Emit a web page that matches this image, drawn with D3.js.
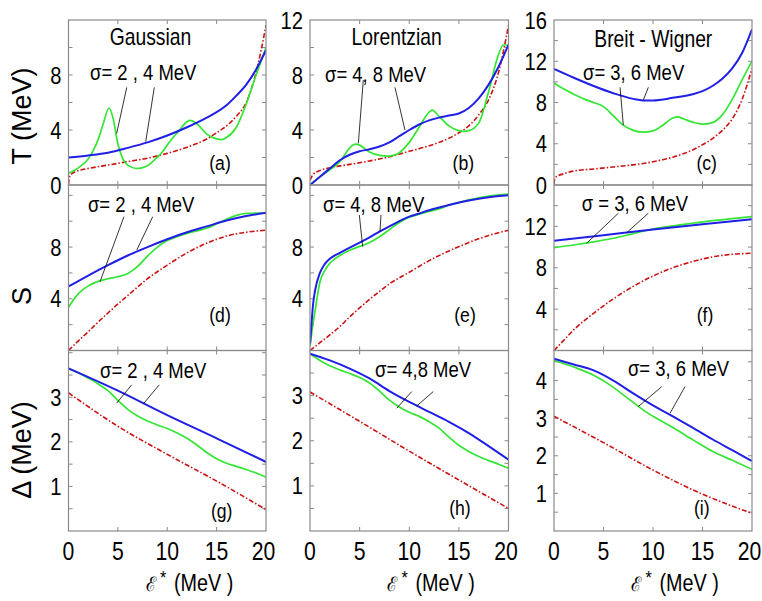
<!DOCTYPE html>
<html><head><meta charset="utf-8">
<script src="https://cdn.jsdelivr.net/npm/d3@7"></script>
<style>
body{margin:0;background:#fff}
svg text{font-family:"Liberation Sans",Arial,sans-serif;fill:#000}
</style></head><body>
<svg id="c" width="762" height="601"></svg>
<script>
// ---------- data (E* in MeV, value) ----------
const xTickValues = [0,5,10,15,20];
const xTickLabels = ["0","5","10","15","20"];

// T (MeV)
const tGaussS4 = [[0,2.0],[2,2.15],[4,2.35],[6,2.7],[8,3.1],[10,3.6],[12,4.2],[14,4.9],[16,5.8],[17,6.5],[18,7.3],[19,8.4],[20,9.8]];
const tGaussS2 = [[0,0.85],[1,1.25],[2,1.9],[2.5,2.5],[3,3.3],[3.5,4.4],[4.1,5.6],[4.5,4.9],[5,3.0],[5.5,1.9],[6,1.45],[6.9,1.2],[8,1.4],[8.6,1.75],[9.5,2.4],[10.3,3.2],[11.2,3.95],[12,4.6],[12.3,4.7],[13,4.45],[14,3.7],[15,3.35],[15.5,3.3],[16,3.45],[17,4.2],[18,5.9],[19,8.0],[20,10.0]];
const tGaussRef = [[0,0.05],[0.1,0.6],[0.3,0.8],[1,1.05],[2,1.2],[4,1.45],[6,1.7],[8,1.95],[10,2.3],[12,2.75],[14,3.35],[15,3.8],[16,4.3],[17,5.0],[18,6.0],[19,8.2],[20,11.6]];

const tLorS8 = [[0,0],[1,0.6],[2,1.2],[3,1.8],[4,2.2],[5,2.45],[6,2.6],[7,2.8],[8,3.1],[9,3.55],[10,4.0],[11,4.4],[12,4.7],[13,4.9],[14,5.05],[15,5.2],[16,5.6],[17,6.3],[18,7.3],[19,8.6],[20,10.2]];
const tLorS4 = [[0,0],[1,0.6],[2,1.1],[3,1.7],[3.5,2.2],[4,2.7],[4.6,2.97],[5,2.9],[6,2.4],[7,2.15],[8,2.1],[9,2.35],[10,3.1],[11,4.2],[12,5.3],[12.3,5.45],[13,5.0],[14,4.3],[15,3.95],[15.5,3.9],[16,3.95],[17,4.5],[18,6.8],[19,9.5],[19.5,10.2],[20,10.1]];
const tLorRef = [[0,0.35],[0.3,0.75],[1,1.05],[2,1.25],[4,1.5],[6,1.75],[8,2.05],[10,2.45],[12,2.85],[14,3.4],[15,3.8],[16,4.3],[17,5.1],[18,6.2],[19,8.2],[20,11.6]];

const tBwS6 = [[0,11.25],[2,10.4],[4,9.6],[6,8.9],[8,8.35],[9,8.2],[10,8.2],[12,8.45],[14,8.8],[15,9.1],[16,9.6],[17,10.3],[18,11.3],[19,12.8],[20,15.1]];
const tBwS3 = [[0,9.9],[1,9.3],[2,8.8],[3,8.35],[4,8.0],[5,7.6],[6,6.7],[7,5.8],[8,5.3],[9,5.12],[10,5.25],[11,5.8],[12,6.5],[12.5,6.6],[13,6.45],[14,6.1],[15,5.9],[16,6.05],[17,6.8],[18,8.3],[19,10.2],[20,12.0]];
const tBwRef = [[0,0.1],[0.1,0.7],[1,1.1],[2,1.35],[4,1.55],[6,1.75],[8,1.95],[10,2.25],[12,2.7],[14,3.4],[15,3.9],[16,4.5],[17,5.3],[18,6.4],[19,8.3],[20,11.3]];

// S
const sGaussS4 = [[0,4.95],[2,5.8],[4,6.6],[6,7.35],[8,8.0],[10,8.6],[12,9.15],[14,9.6],[16,10.05],[18,10.4],[20,10.65]];
const sGaussS2 = [[0,3.35],[1,4.4],[2,5.0],[3,5.35],[4,5.55],[5,5.7],[6,5.95],[7,6.5],[8,7.3],[9,8.0],[10,8.5],[11,8.8],[12,9.05],[13,9.25],[14,9.45],[15,9.8],[16,10.15],[17,10.45],[18,10.6],[20,10.65]];
const sGaussRef = [[0,0],[1,0.75],[2,1.45],[3,2.2],[4,2.9],[5,3.6],[6,4.25],[8,5.55],[10,6.6],[12,7.55],[14,8.3],[16,8.85],[18,9.15],[20,9.3]];

const sLorS8 = [[0,0.5],[0.1,1.5],[0.3,3.5],[0.5,4.6],[1,6.0],[1.5,6.7],[2,7.1],[3,7.55],[4,7.95],[5,8.35],[6,8.75],[7,9.2],[8,9.6],[9,10.0],[10,10.35],[11,10.6],[12,10.85],[14,11.25],[16,11.6],[18,11.85],[20,12.0]];
const sLorS4 = [[0,0.3],[0.2,1.5],[0.5,3.0],[1,5.3],[1.5,6.2],[2,6.75],[3,7.35],[4,7.75],[5,8.05],[6,8.35],[7,8.8],[8,9.35],[9,9.9],[10,10.3],[11,10.55],[12,10.75],[13,10.95],[14,11.25],[16,11.65],[18,11.95],[20,12.1]];
const sLorRef = [[0,0],[1,0.6],[2,1.2],[3,1.85],[4,2.6],[5,3.3],[6,3.95],[8,5.15],[10,6.05],[12,6.95],[14,7.7],[16,8.35],[18,8.9],[20,9.3]];

const sBwS6 = [[0,10.6],[5,11.15],[10,11.7],[15,12.2],[20,12.7]];
const sBwS3 = [[0,9.95],[2,10.2],[4,10.5],[6,10.85],[8,11.3],[10,11.75],[12,12.05],[14,12.3],[16,12.55],[18,12.75],[20,12.95]];
const sBwRef = [[0,0],[1,1.0],[2,2.0],[3,2.85],[4,3.6],[6,5.0],[8,6.2],[10,7.2],[12,8.0],[14,8.6],[16,9.05],[18,9.3],[20,9.4]];

// Delta (MeV)
const dGaussS4 = [[0,3.65],[5,3.15],[10,2.6],[15,2.08],[20,1.55]];
const dGaussS2 = [[0,3.64],[1,3.55],[2,3.43],[3,3.3],[4,3.15],[5,2.93],[6,2.73],[7,2.58],[8,2.47],[9,2.38],[10,2.3],[11,2.2],[12,2.08],[13,1.93],[14,1.76],[15,1.62],[16,1.52],[17,1.45],[18,1.38],[19,1.3],[20,1.21]];
const dGaussRef = [[0,3.1],[5,2.35],[10,1.72],[15,1.12],[20,0.48]];

const dLorS8 = [[0,3.93],[2,3.78],[4,3.6],[6,3.38],[8,3.1],[10,2.86],[12,2.64],[14,2.42],[16,2.17],[18,1.88],[20,1.58]];
const dLorS4 = [[0,3.93],[1,3.78],[2,3.66],[3,3.57],[4,3.49],[5,3.4],[6,3.28],[7,3.1],[8,2.9],[9,2.75],[10,2.63],[11,2.54],[12,2.42],[13,2.28],[14,2.08],[15,1.9],[16,1.76],[17,1.65],[18,1.56],[19,1.48],[20,1.39]];
const dLorRef = [[0,3.08],[5,2.43],[10,1.77],[15,1.13],[20,0.5]];

const dBwS6 = [[0,4.58],[2,4.43],[4,4.27],[6,4.0],[8,3.66],[10,3.34],[12,3.05],[14,2.75],[16,2.44],[18,2.15],[20,1.86]];
const dBwS3 = [[0,4.54],[2,4.36],[4,4.14],[6,3.82],[7,3.62],[8,3.42],[9,3.22],[10,3.05],[12,2.75],[14,2.43],[16,2.12],[18,1.88],[20,1.64]];
const dBwRef = [[0,3.05],[5,2.35],[10,1.62],[15,0.98],[20,0.47]];

// y tick labels per panel
const yLabelsA = [0,4,8], yLabelsB = [0,4,8,12], yLabelsC = [0,4,8,12,16];
const yLabelsD = [4,8], yLabelsE = [4,8], yLabelsF = [4,8,12];
const yLabelsG = [1,2,3], yLabelsH = [1,2,3], yLabelsI = [1,2,3,4];

const titles = ["Gaussian","Lorentzian","Breit - Wigner"];
const sigmaTexts = ["σ= 2 , 4 MeV","σ= 4,  8 MeV","σ= 3,  6 MeV","σ= 2 , 4 MeV","σ= 4, 8 MeV","σ = 3,  6 MeV","σ= 2 , 4 MeV","σ= 4,8 MeV","σ= 3,  6 MeV"];
const panelTags = ["(a)","(b)","(c)","(d)","(e)","(f)","(g)","(h)","(i)"];

// ---------- layout ----------
const cols = [[68.5,266],[310,508.5],[554,752]];
const rows = [[20,185],[185,350.5],[350.5,531]];
const colors = {wide:"#1f1fe6", narrow:"#33e633", ref:"#cc1111", frame:"#8a8a8a"};
const NARROW = 0.84;

function ntext(sel, x, y, size, anchor, str, sx){
  return sel.append("text")
    .attr("transform",`translate(${x},${y}) scale(${sx||NARROW},1)`)
    .attr("text-anchor",anchor).attr("font-size",size).text(str);
}

const panels = [
 {r:0,c:0,ymax:12,step:2,lab:yLabelsA,wide:tGaussS4,narrow:tGaussS2,ref:tGaussRef,
  sig:[2.18,7.64],lines:[[5.9,7.1,4.88,3.76],[8.69,7.1,7.82,3.15]],tag:[15.34,1.09],title:[8.3,10.2]},
 {r:0,c:1,ymax:12,step:2,lab:yLabelsB,wide:tLorS8,narrow:tLorS4,ref:tLorRef,
  sig:[1.51,7.51],lines:[[5.37,7.64,4.87,3.03],[8.56,7.1,9.57,4.0]],tag:[15.45,1.09],title:[8.73,10.2]},
 {r:0,c:2,ymax:16,step:2,lab:yLabelsC,wide:tBwS6,narrow:tBwS3,ref:tBwRef,
  sig:[2.93,10.18],lines:[[6.67,9.47,7.0,5.82],[9.53,9.47,9.02,8.24]],tag:[15.42,1.45],title:[10.03,13.38]},
 {r:1,c:0,ymax:12.8,step:2,lab:yLabelsD,wide:sGaussS4,narrow:sGaussS2,ref:sGaussRef,
  sig:[1.97,10.73],lines:[[5.62,10.35,3.19,5.32],[8.53,10.35,6.91,7.77]],tag:[15.34,2.2]},
 {r:1,c:1,ymax:12.8,step:2,lab:yLabelsE,wide:sLorS8,narrow:sLorS4,ref:sLorRef,
  sig:[1.31,10.73],lines:[[4.97,10.48,5.31,8.03],[7.15,10.48,7.05,9.19]],tag:[15.62,2.2]},
 {r:1,c:2,ymax:16,step:2,lab:yLabelsF,wide:sBwS6,narrow:sBwS3,ref:sBwRef,
  sig:[2.8,13.52],lines:[[6.5,13.27,3.3,10.37],[9.53,13.27,7.34,11.39]],tag:[15.25,2.75]},
 {r:2,c:0,ymax:4.05,step:0.5,lab:yLabelsG,wide:dGaussS4,narrow:dGaussS2,ref:dGaussRef,
  sig:[3.19,3.43],lines:[[6.4,3.28,4.88,2.87],[9.19,3.28,7.57,2.85]],tag:[15.51,0.29]},
 {r:2,c:1,ymax:4.0,step:0.5,lab:yLabelsH,wide:dLorS8,narrow:dLorS4,ref:dLorRef,
  sig:[6.55,3.42],lines:[[10.25,3.09,8.74,2.72],[12.42,3.09,10.75,2.77]],tag:[15.11,0.35]},
 {r:2,c:2,ymax:4.8,step:0.5,lab:yLabelsI,wide:dBwS6,narrow:dBwS3,ref:dBwRef,
  sig:[7.47,4.12],lines:[[10.88,3.84,8.52,3.31],[13.23,3.84,11.72,3.13]],tag:[14.92,0.43]}
];

const svg = d3.select("#c");
const defs = svg.append("defs");

panels.forEach((p,i)=>{
  const [x0,x1] = cols[p.c], [y0,y1] = rows[p.r];
  const x = d3.scaleLinear().domain([0,20]).range([x0,x1]);
  const y = d3.scaleLinear().domain([0,p.ymax]).range([y1,y0]);
  const g = svg.append("g");
  defs.append("clipPath").attr("id","clip"+i).append("rect")
    .attr("x",x0).attr("y",y0).attr("width",x1-x0).attr("height",y1-y0);

  // ticks (inward, all sides)
  const yt = d3.range(p.step, p.ymax-1e-9, p.step);
  const tk = g.append("g").attr("stroke",colors.frame).attr("stroke-width",1);
  yt.forEach(v=>{
    tk.append("line").attr("x1",x0).attr("x2",x0+4).attr("y1",y(v)).attr("y2",y(v));
    tk.append("line").attr("x1",x1).attr("x2",x1-4).attr("y1",y(v)).attr("y2",y(v));
  });
  [5,10,15].forEach(v=>{
    tk.append("line").attr("x1",x(v)).attr("x2",x(v)).attr("y1",y0).attr("y2",y0+4);
    tk.append("line").attr("x1",x(v)).attr("x2",x(v)).attr("y1",y1).attr("y2",y1-4);
  });

  // y tick labels
  p.lab.forEach(d=>{
    ntext(g, x0-7, y(d)+8.6, 24, "end", String(d));
  });

  // curves
  const line = d3.line().x(d=>x(d[0])).y(d=>y(d[1])).curve(d3.curveMonotoneX);
  const cg = g.append("g").attr("clip-path","url(#clip"+i+")").attr("fill","none");
  cg.append("path").attr("d",line(p.ref)).attr("stroke",colors.ref).attr("stroke-width",1.6)
    .attr("stroke-dasharray","5,2,1.5,2");
  cg.append("path").attr("d",line(p.narrow)).attr("stroke",colors.narrow).attr("stroke-width",1.7);
  cg.append("path").attr("d",line(p.wide)).attr("stroke",colors.wide).attr("stroke-width",2);

  // frame
  g.append("rect").attr("x",x0).attr("y",y0).attr("width",x1-x0).attr("height",y1-y0)
    .attr("fill","none").attr("stroke",colors.frame).attr("stroke-width",1.2);

  // annotations
  p.lines.forEach(l=>{
    g.append("line").attr("x1",x(l[0])).attr("y1",y(l[1])).attr("x2",x(l[2])).attr("y2",y(l[3]))
      .attr("stroke","#000").attr("stroke-width",0.8);
  });
  ntext(g, x(p.sig[0]), y(p.sig[1]), 22, "start", sigmaTexts[i]);
  ntext(g, x(p.tag[0]), y(p.tag[1]), 21, "middle", panelTags[i]);
  if (p.title) ntext(g, x(p.title[0]), y(p.title[1]), 23, "middle", titles[p.c]);

  // x tick labels, bottom row
  if (p.r===2) {
    xTickValues.forEach((d,k)=>{
      const shift = d===20 ? -2.5 : 0;
      ntext(g, x(d)+shift, 560, 26.5, "middle", xTickLabels[k], 0.8);
    });
    const t = g.append("text")
      .attr("transform",`translate(${x0+77},591) scale(0.86,1)`)
      .attr("text-anchor","start").attr("font-size",23);
    t.append("tspan").attr("font-family","DejaVu Serif, serif").attr("font-size",20).text("ℰ");
    t.append("tspan").attr("dy",-7).attr("dx",5).attr("font-size",19).text("*");
    t.append("tspan").attr("dy",7).attr("dx",9).text("(MeV )");
  }
});

// y axis titles
const yTitles = [["T  (MeV)",116],["S",296],["Δ  (MeV)",450]];
yTitles.forEach(([s,cy])=>{
  svg.append("text").attr("transform",`translate(31,${cy}) rotate(-90)`)
    .attr("text-anchor","middle").attr("font-size",27).text(s);
});
</script>
</body></html>
